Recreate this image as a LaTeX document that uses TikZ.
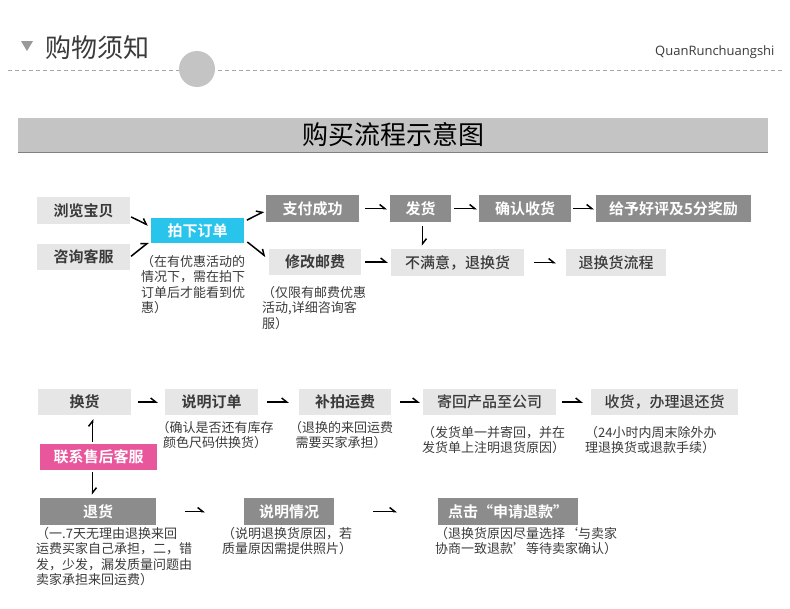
\documentclass[tikz,border=0pt]{standalone}
\usepackage{fontspec}
\setmainfont{Noto Sans CJK SC}[BoldFont={Noto Sans CJK SC Bold}]
\newfontfamily\latinfont{Open Sans}
\newfontfamily\cjkmedium{Noto Sans CJK SC Medium}
\usepackage{xcolor}
\usetikzlibrary{arrows.meta,calc}
\definecolor{boxLight}{RGB}{230,230,230}
\definecolor{boxDark}{RGB}{140,140,140}
\definecolor{boxCyan}{RGB}{40,196,236}
\definecolor{boxPink}{RGB}{232,86,156}
\definecolor{barGray}{RGB}{196,196,196}
\definecolor{txtGray}{RGB}{58,58,58}
\tikzset{
  box/.style={inner sep=0pt, minimum height=26pt, font=\bfseries\fontsize{15}{15}\selectfont},
  lightbox/.style={box, fill=boxLight, text=txtGray},
  plainbox/.style={lightbox, font=\cjkmedium\fontsize{15}{15}\selectfont},
  darkbox/.style={box, fill=boxDark, text=white},
  note/.style={inner sep=0pt, text=txtGray, font=\fontsize{13}{15.5}\selectfont},
  flow/.style={line width=1.5pt, -{Straight Barb[harpoon,length=5pt,width=8pt]}},
}

\begin{document}
\begin{tikzpicture}[x=1pt,y=-1pt]
\useasboundingbox (0,0) rectangle (790,608);
% header
\fill[gray!80] (21,41) -- (33,41) -- (27,51) -- cycle;
\node[anchor=west, text=txtGray, font=\fontsize{26}{26}\selectfont] (head) at (42,48) {购物须知};
\node[anchor=east, text=txtGray, font=\latinfont\fontsize{13}{13}\selectfont] (brand) at (778,52) {QuanRunchuangshi};
\draw[gray!70, dash pattern=on 4pt off 3pt] (8,70) -- (782,70);
\fill[barGray] (197,69) circle (18pt);
% title bar
\fill[barGray] (18,118) rectangle (768,152);
\draw[gray, line width=1.2pt] (18,152.5) -- (768,152.5);
\node[font=\fontsize{26}{26}\selectfont] (title) at (393,135) {购买流程示意图};

% order flow
\node[lightbox, minimum width=93pt, minimum height=27pt] (browse) at (83.5,210.5) {浏览宝贝};
\node[lightbox, minimum width=93pt] (consult) at (83.5,257) {咨询客服};
\node[box, fill=boxCyan, text=white, minimum width=93pt, minimum height=25pt] (order) at (197.5,230.5) {拍下订单};
\node[darkbox, minimum width=93pt, minimum height=27pt] (paid) at (312.5,208.5) {支付成功};
\node[lightbox, minimum width=92pt] (postage) at (315,262) {修改邮费};
\node[darkbox, minimum width=61pt, minimum height=27pt] (ship) at (420.5,208.5) {发货};
\node[darkbox, minimum width=92pt, minimum height=27pt] (confirm) at (525,208.5) {确认收货};
\node[darkbox, minimum width=155pt, minimum height=27pt] (review) at (673.5,208.5) {给予好评及5分奖励};
\node[plainbox, minimum width=133pt, minimum height=27pt] (unhappy) at (457.5,262.5) {不满意，退换货};
\node[plainbox, minimum width=100pt, minimum height=27pt] (process) at (616,262.5) {退换货流程};

\node[note, anchor=north west, align=left] (noteorder) at (141,255) {（在有优惠活动的\\情况下，需在拍下\\订单后才能看到优\\惠）};
\node[note, anchor=north west, align=left] (notepost) at (262,286) {（仅限有邮费优惠\\活动,详细咨询客\\服）};

\draw[flow, shorten <=1pt, shorten >=3pt] ([yshift=-6pt]browse.east) -- ([yshift=4pt]order.west);
\draw[flow, shorten <=1pt, shorten >=3pt] (consult.east) -- ([yshift=-10pt]order.west);
\draw[flow, shorten <=3pt, shorten >=2pt] ([yshift=9pt]order.east) -- ([yshift=-2pt]paid.west);
\draw[flow, shorten <=4pt, shorten >=4pt] ([yshift=-9pt]order.east) -- ([yshift=3pt]postage.west);
\draw[flow, shorten <=6pt, shorten >=3pt] (paid) -- (ship);
\draw[flow, shorten <=3pt, shorten >=2pt] (ship) -- (confirm);
\draw[flow, shorten <=2pt, shorten >=2pt] (confirm) -- (review);
\draw[flow, shorten <=4pt, shorten >=3pt] (postage) -- (postage -| unhappy.west);
\draw[flow, shorten <=10pt, shorten >=10pt] (unhappy) -- (process);
\draw[flow, shorten <=4pt, shorten >=3pt] ([xshift=2pt]ship.south) -- ([xshift=2pt]ship.south |- unhappy.north);

% after-sale flow
\node[lightbox, minimum width=93pt] (exch) at (84.5,402) {换货};
\node[lightbox, minimum width=93pt] (explorder) at (211.5,402) {说明订单};
\node[lightbox, minimum width=92pt] (postfee) at (345,402) {补拍运费};
\node[plainbox, minimum width=133pt] (sendback) at (489.5,402) {寄回产品至公司};
\node[plainbox, minimum width=147pt] (refundrecv) at (664.5,402) {收货，办理退还货};
\node[box, fill=boxPink, text=white, minimum width=117pt] (service) at (98.5,457) {联系售后客服};
\node[darkbox, minimum width=116pt, minimum height=27pt] (returngoods) at (98,511.5) {退货};
\node[darkbox, minimum width=90pt, minimum height=27pt] (explain) at (289,511.5) {说明情况};
\node[darkbox, minimum width=140pt, minimum height=27pt] (apply) at (508,511.5) {点击“申请退款”};

\node[note, anchor=north, align=center] (noteexpl) at (215,421) {（确认是否还有库存\\颜色尺码供换货）};
\node[note, anchor=north, align=center] (notefee) at (341,421) {（退换的来回运费\\需要买家承担）};
\node[note, anchor=north west, align=left] (notesend) at (422,426) {（发货单一并寄回，并在\\发货单上注明退货原因）};
\node[note, anchor=north west, align=left] (noterecv) at (585,426) {（24小时内周末除外办\\理退换货或退款手续）};
\node[note, anchor=north west, align=left] (notereturn) at (36,527) {（一.7天无理由退换来回\\运费买家自己承担，二，错\\发，少发，漏发质量问题由\\卖家承担来回运费）};
\node[note, anchor=north west, align=left] (noteexplain) at (222,527) {（说明退换货原因，若\\质量原因需提供照片）};
\node[note, anchor=north west, align=left] (noteapply) at (435,527) {（退换货原因尽量选择‘与卖家\\协商一致退款’等待卖家确认）};

\draw[flow, shorten <=7pt, shorten >=7pt] (exch) -- (explorder);
\draw[flow, shorten <=9pt, shorten >=10pt] (explorder) -- (postfee);
\draw[flow, shorten <=9pt, shorten >=3pt] (postfee) -- (sendback);
\draw[flow, shorten <=6pt, shorten >=8pt] (sendback) -- (refundrecv);
\draw[flow, shorten <=2pt, shorten >=4pt] ([xshift=-6pt]service.north) -- ([xshift=-6pt]service.north |- exch.south);
\draw[flow, shorten <=2pt, shorten >=3pt] ([xshift=-6pt]service.south) -- ([xshift=-6pt]service.south |- returngoods.north);
\draw[flow, shorten <=29pt, shorten >=39pt] (returngoods) -- (explain);
\draw[flow, shorten <=39pt, shorten >=41pt] (explain) -- (apply);
\end{tikzpicture}
\end{document}
